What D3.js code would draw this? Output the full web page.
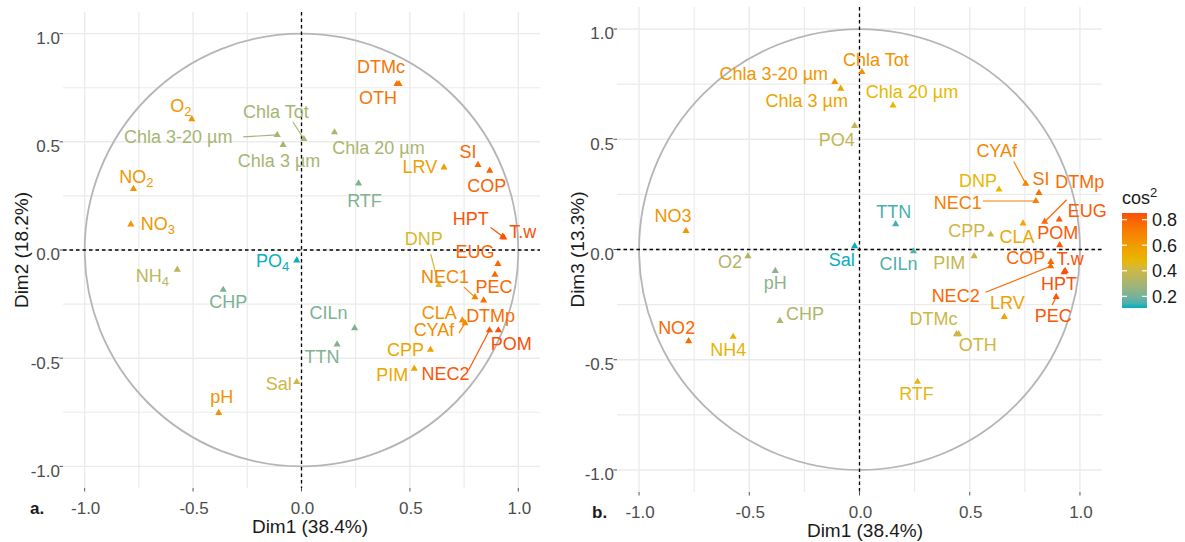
<!DOCTYPE html>
<html><head><meta charset="utf-8">
<script src="https://cdn.jsdelivr.net/npm/d3@7"></script>
<style>
body{margin:0;background:#fff}
svg{display:block}
text{font-family:"Liberation Sans",Arial,Helvetica,sans-serif}
</style>
</head><body>
<svg id="chart" width="1185" height="542"></svg>
<script>
// ---------------- DATA ----------------
const variables = ["O2","NO2","NO3","Chla 3-20 µm","Chla 3 µm","Chla Tot","Chla 20 µm","RTF","DTMc","OTH","SI","COP","LRV","HPT","T.w","EUG","PEC","NEC1","DNP","DTMp","NEC2","POM","CLA","CYAf","CPP","PIM","CILn","TTN","Sal","PO4","NH4","CHP","pH"];
// panel a label text ("_" marks a subscript)
const labelsA = ["O_2","NO_2","NO_3","Chla 3-20 µm","Chla 3 µm","Chla Tot","Chla 20 µm","RTF","DTMc","OTH","SI","COP","LRV","HPT","T.w","EUG","PEC","NEC1","DNP","DTMp","NEC2","POM","CLA","CYAf","CPP","PIM","CILn","TTN","Sal","PO_4","NH_4","CHP","pH"];
const dim1 = [-0.506,-0.775,-0.787,-0.112,-0.085,0.011,0.152,0.263,0.440,0.450,0.814,0.868,0.657,0.928,0.933,0.906,0.892,0.800,0.633,0.840,0.867,0.908,0.742,0.754,0.595,0.520,0.245,0.164,-0.022,-0.022,-0.573,-0.361,-0.382];
const dim2 = [0.605,0.282,0.118,0.532,0.486,0.513,0.544,0.308,0.767,0.767,0.393,0.367,0.382,0.062,0.058,-0.064,-0.114,-0.218,-0.162,-0.233,-0.371,-0.371,-0.325,-0.338,-0.461,-0.548,-0.361,-0.436,-0.610,-0.048,-0.091,-0.184,-0.753];
const dim3 = [-0.030,-0.416,0.084,0.760,0.730,0.805,0.654,-0.600,-0.384,-0.384,0.257,-0.056,-0.306,-0.103,-0.097,0.136,-0.215,0.220,0.272,0.126,-0.076,0.020,0.118,0.299,0.068,-0.030,-0.008,0.115,0.015,0.561,-0.396,-0.324,-0.097];
const cos2A = [0.62,0.62,0.62,0.30,0.30,0.30,0.31,0.22,0.74,0.74,0.78,0.80,0.58,0.84,0.85,0.78,0.78,0.68,0.44,0.76,0.83,0.85,0.64,0.66,0.56,0.55,0.21,0.22,0.40,0.11,0.35,0.21,0.64];
const cos2B = [0.33,0.78,0.62,0.62,0.57,0.64,0.48,0.47,0.40,0.41,0.75,0.78,0.57,0.85,0.84,0.82,0.83,0.70,0.48,0.77,0.78,0.82,0.55,0.68,0.40,0.38,0.15,0.14,0.11,0.37,0.50,0.32,0.24];
const axisTicks = [-1,-0.5,0,0.5,1];
const tickLabels = ["-1.0","-0.5","0.0","0.5","1.0"];
const minorBreaks = [-0.75,-0.25,0.25,0.75];
const cos2Limits = [0.109,0.852];
const legendTicks = [0.2,0.4,0.6,0.8];
const legendTickLabels = ["0.2","0.4","0.6","0.8"];
const gradientColors = ["#00AFBB","#E7B800","#FC4E07"];

// ---------------- LAYOUT (label offsets in px: dx,dy [,segment start dx,dy]) ----------------
const layoutA = {
 "O2":[-11,-13],"NO2":[3,-12],"NO3":[27,-1],"Chla 3-20 µm":[-99,2,-34,2],"Chla 3 µm":[-4,16],
 "Chla Tot":[-28,-27,-11,-17],"Chla 20 µm":[44,15],"RTF":[6,17],"DTMc":[-16,-17],"OTH":[-21,14],
 "SI":[-10,-13],"COP":[-3,15],"LRV":[-24,-1],"HPT":[-32,-18,-12,-9],"T.w":[19,-6],"EUG":[-23,-12],
 "PEC":[-1,12],"NEC1":[-30,-20,-11,-10],"DNP":[-15,-46,-8,-31],"DTMp":[7,15],"NEC2":[-44,43,-21,40],
 "POM":[13,13],"CLA":[-23,-8],"CYAf":[-31,7,-6,10],"CPP":[-25,0],"PIM":[-22,6],"CILn":[-26,-15],
 "TTN":[-15,12],"Sal":[-18,2],"PO4":[-24,0],"NH4":[-25,6],"CHP":[5,12],"pH":[3,-16]
};
const layoutB = {
 "O2":[-18,6],"NO2":[-12,-14],"NO3":[-13,-15],"Chla 3-20 µm":[-61,-8],"Chla 3 µm":[-34,12],
 "Chla Tot":[14,-12],"Chla 20 µm":[19,-14],"RTF":[-1,12],"DTMc":[-23,-15],"OTH":[19,11],
 "SI":[2,-14],"COP":[-25,-4],"LRV":[3,-14],"HPT":[-5,11],"T.w":[5,-12],"EUG":[28,-9],
 "PEC":[-3,19,-4,8],"NEC1":[-78,2,-53,0],"DNP":[-21,-9],"DTMp":[35,-40,22,-22],"NEC2":[-95,29,-65,26],
 "POM":[-2,-12],"CLA":[-6,13],"CYAf":[-29,-33,-12,-22],"CPP":[-24,-4],"PIM":[-25,7],"CILn":[-15,12],
 "TTN":[-2,-12],"Sal":[-13,14],"PO4":[-18,14],"NH4":[-5,13],"CHP":[25,-7],"pH":[0,12]
};

const panels = [
 {x0:63, x1:540, y0:12, y1:488, ys:dim2, cos2:cos2A, labels:labelsA, layout:layoutA,
  xTitle:"Dim1 (38.4%)", yTitle:"Dim2 (18.2%)", tag:"a.", tagX:30, xTitleX:310, yTitleX:21},
 {x0:617, x1:1102, y0:7, y1:492, ys:dim3, cos2:cos2B, labels:variables, layout:layoutB,
  xTitle:"Dim1 (38.4%)", yTitle:"Dim3 (13.3%)", tag:"b.", tagX:592, xTitleX:865, yTitleX:577}
];

const color = d3.scaleLinear()
  .domain([cos2Limits[0], (cos2Limits[0]+cos2Limits[1])/2, cos2Limits[1]])
  .range(gradientColors).interpolate(d3.interpolateLab).clamp(true);

const svg = d3.select("#chart");
const FONT_LABEL = 18;

panels.forEach(p => {
  const x = d3.scaleLinear().domain([-1.1,1.1]).range([p.x0,p.x1]);
  const y = d3.scaleLinear().domain([-1.1,1.1]).range([p.y1,p.y0]);
  const g = svg.append("g");

  // grid
  const allBreaks = axisTicks.concat(minorBreaks);
  g.selectAll(".gv").data(allBreaks).join("line")
    .attr("x1",d=>x(d)).attr("x2",d=>x(d)).attr("y1",p.y0).attr("y2",p.y1)
    .attr("stroke","#EBEBEB").attr("stroke-width",d=>axisTicks.includes(d)?1.4:1.2);
  g.selectAll(".gh").data(allBreaks).join("line")
    .attr("y1",d=>y(d)).attr("y2",d=>y(d)).attr("x1",p.x0).attr("x2",p.x1)
    .attr("stroke","#EBEBEB").attr("stroke-width",d=>axisTicks.includes(d)?1.4:1.2);

  // ticks + tick labels
  g.selectAll(".xt").data(axisTicks).join("line")
    .attr("x1",d=>x(d)).attr("x2",d=>x(d)).attr("y1",p.y1).attr("y2",p.y1+3.5)
    .attr("stroke","#555").attr("stroke-width",1);
  g.selectAll(".yt").data(axisTicks).join("line")
    .attr("y1",d=>y(d)).attr("y2",d=>y(d)).attr("x1",p.x0-3.5).attr("x2",p.x0)
    .attr("stroke","#555").attr("stroke-width",1);
  g.selectAll(".xl").data(axisTicks).join("text")
    .attr("x",d=>x(d)+1).attr("y",p.y1+20).attr("dy","0.35em")
    .attr("text-anchor","middle").attr("font-size",17).attr("fill","#4D4D4D")
    .text((d,i)=>tickLabels[i]);
  g.selectAll(".yl").data(axisTicks).join("text")
    .attr("x",p.x0-3).attr("y",d=>y(d)+4.5).attr("dy","0.35em")
    .attr("text-anchor","end").attr("font-size",17).attr("fill","#4D4D4D")
    .text((d,i)=>tickLabels[i]);

  // axis titles
  g.append("text").attr("x",p.xTitleX).attr("y",p.y1+38).attr("dy","0.35em")
    .attr("text-anchor","middle").attr("font-size",19).attr("fill","#1a1a1a").text(p.xTitle);
  g.append("text").attr("transform",`translate(${p.yTitleX},${(p.y0+p.y1)/2}) rotate(-90)`)
    .attr("dy","0.35em").attr("text-anchor","middle").attr("font-size",19).attr("fill","#1a1a1a").text(p.yTitle);
  g.append("text").attr("x",p.tagX).attr("y",p.y1+20).attr("dy","0.35em")
    .attr("font-size",17).attr("font-weight","bold").attr("fill","#1a1a1a").text(p.tag);

  // correlation circle
  g.append("ellipse").attr("cx",x(0)).attr("cy",y(0))
    .attr("rx",x(1)-x(0)).attr("ry",y(0)-y(1))
    .attr("fill","none").attr("stroke","#B5B5B5").attr("stroke-width",1.8);

  // zero lines
  g.append("line").attr("x1",p.x0).attr("x2",p.x1).attr("y1",y(0)).attr("y2",y(0))
    .attr("stroke","#000").attr("stroke-width",1.3).attr("stroke-dasharray","3.5,3");
  g.append("line").attr("y1",p.y0).attr("y2",p.y1).attr("x1",x(0)).attr("x2",x(0))
    .attr("stroke","#000").attr("stroke-width",1.3).attr("stroke-dasharray","3.5,3");

  const rows = variables.map((v,i)=>({name:v, label:p.labels[i], px:x(dim1[i]), py:y(p.ys[i]), c:color(p.cos2[i]), lay:p.layout[v]}));

  // segments
  g.selectAll(".seg").data(rows.filter(r=>r.lay.length>2)).join("line")
    .attr("x1",r=>r.px+r.lay[2]).attr("y1",r=>r.py+r.lay[3])
    .attr("x2",r=>r.px).attr("y2",r=>r.py)
    .attr("stroke",r=>r.c).attr("stroke-width",1.2);

  // points (triangles)
  const tri = d3.symbol().type(d3.symbolTriangle).size(22);
  g.selectAll(".pt").data(rows).join("path")
    .attr("d",tri).attr("transform",r=>`translate(${r.px},${r.py})`)
    .attr("fill",r=>r.c);

  // labels
  rows.forEach(r=>{
    const t = g.append("text").attr("x",r.px+r.lay[0]).attr("y",r.py+r.lay[1])
      .attr("text-anchor","middle").attr("font-size",FONT_LABEL).attr("fill",r.c);
    const parts = r.label.split("_");
    if(parts.length===1){ t.attr("dy","0.35em").text(r.label); }
    else {
      t.append("tspan").attr("dy","0.35em").text(parts[0]);
      t.append("tspan").attr("dy","4").attr("font-size",13).text(parts[1]);
    }
  });
});

// legend (colourbar)
const lg = svg.append("g");
const barX = 1122, barW = 25, barTop = 213, barBot = 308;
const ly = d3.scaleLinear().domain(cos2Limits).range([barBot,barTop]);
const grad = svg.append("defs").append("linearGradient").attr("id","cbar")
  .attr("x1",0).attr("x2",0).attr("y1",1).attr("y2",0);
d3.range(0,1.0001,0.05).forEach(t=>{
  grad.append("stop").attr("offset",t)
    .attr("stop-color",color(cos2Limits[0]+t*(cos2Limits[1]-cos2Limits[0])));
});
lg.append("rect").attr("x",barX).attr("y",barTop).attr("width",barW).attr("height",barBot-barTop)
  .attr("fill","url(#cbar)");
legendTicks.forEach((v,i)=>{
  lg.append("line").attr("x1",barX).attr("x2",barX+5).attr("y1",ly(v)).attr("y2",ly(v))
    .attr("stroke","#fff").attr("stroke-width",1.2);
  lg.append("line").attr("x1",barX+barW-5).attr("x2",barX+barW).attr("y1",ly(v)).attr("y2",ly(v))
    .attr("stroke","#fff").attr("stroke-width",1.2);
  lg.append("text").attr("x",1152).attr("y",ly(v)).attr("dy","0.35em")
    .attr("font-size",18).attr("fill","#1a1a1a").text(legendTickLabels[i]);
});
const lt = lg.append("text").attr("x",barX).attr("y",204).attr("font-size",18).attr("fill","#1a1a1a");
lt.append("tspan").text("cos");
lt.append("tspan").attr("dy","-7").attr("font-size",13).text("2");
</script>
</body></html>
